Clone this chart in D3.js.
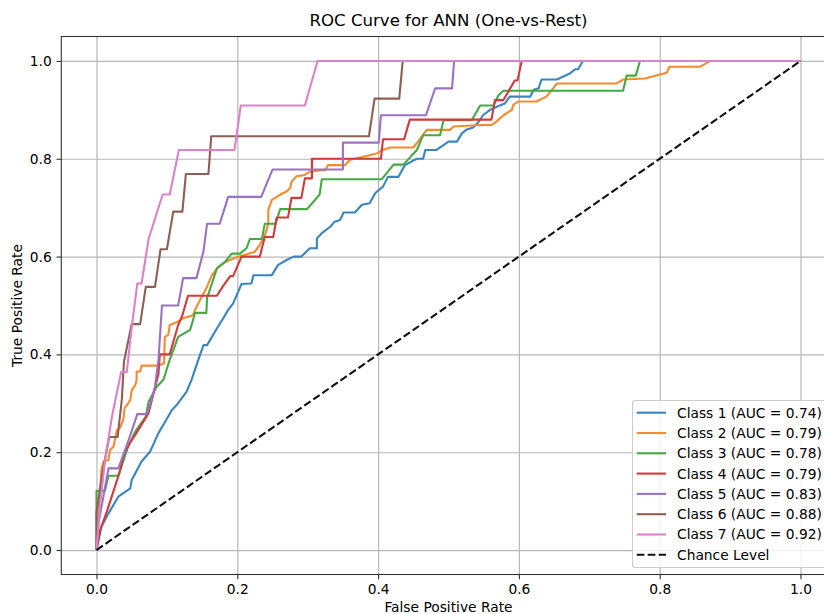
<!DOCTYPE html>
<html>
<head>
<meta charset="utf-8">
<script src="https://cdn.jsdelivr.net/npm/d3@7"></script>
<style>
  html, body { margin: 0; padding: 0; background: #fff; }
  text { font-family: "DejaVu Sans", sans-serif; fill: #000; }
</style>
</head>
<body>
<svg id="chart" width="824" height="614"></svg>
<script>
// ---- data ----
const classNames = ["Class 1", "Class 2", "Class 3", "Class 4", "Class 5", "Class 6", "Class 7"];
const aucValues = [0.74, 0.79, 0.78, 0.79, 0.83, 0.88, 0.92];
const tickValues = [0.0, 0.2, 0.4, 0.6, 0.8, 1.0];

const class1Roc = [[0,0],[0.007,0.048],[0.017,0.075],[0.031,0.109],[0.048,0.126],[0.05,0.143],[0.064,0.181],[0.076,0.201],[0.088,0.239],[0.107,0.286],[0.114,0.297],[0.128,0.324],[0.135,0.348],[0.147,0.399],[0.152,0.419],[0.157,0.419],[0.171,0.453],[0.18,0.474],[0.187,0.491],[0.194,0.504],[0.206,0.544],[0.22,0.545],[0.223,0.562],[0.249,0.562],[0.258,0.583],[0.27,0.593],[0.28,0.6],[0.291,0.6],[0.303,0.617],[0.313,0.617],[0.313,0.637],[0.32,0.648],[0.332,0.661],[0.338,0.671],[0.346,0.675],[0.351,0.69],[0.367,0.69],[0.377,0.706],[0.388,0.709],[0.396,0.73],[0.407,0.743],[0.414,0.763],[0.429,0.763],[0.438,0.787],[0.455,0.8],[0.464,0.8],[0.467,0.818],[0.483,0.818],[0.5,0.835],[0.512,0.835],[0.519,0.852],[0.526,0.86],[0.535,0.864],[0.542,0.874],[0.549,0.889],[0.559,0.9],[0.571,0.908],[0.58,0.913],[0.587,0.927],[0.616,0.927],[0.621,0.941],[0.628,0.944],[0.632,0.962],[0.654,0.962],[0.673,0.975],[0.68,0.983],[0.684,0.983],[0.691,1],[1,1]];
const class2Roc = [[0,0],[0.007,0.164],[0.01,0.181],[0.017,0.184],[0.019,0.204],[0.024,0.211],[0.029,0.245],[0.033,0.249],[0.038,0.266],[0.04,0.29],[0.045,0.3],[0.048,0.307],[0.05,0.327],[0.055,0.337],[0.057,0.348],[0.057,0.365],[0.062,0.365],[0.064,0.377],[0.088,0.377],[0.096,0.382],[0.097,0.436],[0.102,0.44],[0.104,0.46],[0.116,0.467],[0.123,0.474],[0.137,0.48],[0.14,0.491],[0.147,0.511],[0.157,0.538],[0.164,0.562],[0.173,0.579],[0.185,0.59],[0.194,0.596],[0.218,0.607],[0.225,0.61],[0.232,0.624],[0.237,0.637],[0.241,0.651],[0.244,0.668],[0.244,0.695],[0.249,0.716],[0.256,0.722],[0.265,0.73],[0.27,0.733],[0.275,0.74],[0.277,0.753],[0.284,0.764],[0.296,0.767],[0.303,0.774],[0.325,0.777],[0.329,0.787],[0.353,0.787],[0.36,0.798],[0.379,0.804],[0.398,0.811],[0.407,0.818],[0.417,0.823],[0.45,0.823],[0.455,0.832],[0.469,0.859],[0.502,0.859],[0.507,0.866],[0.545,0.869],[0.561,0.869],[0.568,0.876],[0.578,0.889],[0.59,0.9],[0.592,0.91],[0.599,0.917],[0.625,0.917],[0.639,0.927],[0.647,0.941],[0.654,0.954],[0.739,0.954],[0.748,0.962],[0.779,0.964],[0.81,0.976],[0.814,0.988],[0.857,0.988],[0.872,1],[1,1]];
const class3Roc = [[0,0],[0,0.121],[0.012,0.121],[0.017,0.152],[0.031,0.152],[0.045,0.212],[0.055,0.242],[0.07,0.273],[0.074,0.303],[0.085,0.333],[0.095,0.348],[0.104,0.389],[0.116,0.436],[0.133,0.45],[0.14,0.485],[0.156,0.485],[0.157,0.515],[0.164,0.545],[0.171,0.576],[0.183,0.59],[0.192,0.606],[0.204,0.606],[0.213,0.617],[0.218,0.636],[0.235,0.636],[0.239,0.667],[0.254,0.667],[0.261,0.697],[0.299,0.697],[0.317,0.727],[0.32,0.758],[0.405,0.758],[0.422,0.788],[0.436,0.788],[0.455,0.818],[0.464,0.848],[0.488,0.848],[0.493,0.879],[0.533,0.879],[0.545,0.909],[0.564,0.909],[0.571,0.93],[0.578,0.939],[0.748,0.939],[0.753,0.97],[0.766,0.97],[0.772,1],[1,1]];
const class4Roc = [[0,0],[0.005,0.04],[0.015,0.08],[0.024,0.12],[0.033,0.16],[0.04,0.2],[0.048,0.22],[0.057,0.24],[0.074,0.28],[0.088,0.36],[0.09,0.4],[0.104,0.4],[0.116,0.46],[0.122,0.48],[0.13,0.52],[0.171,0.52],[0.18,0.54],[0.19,0.56],[0.194,0.56],[0.206,0.6],[0.232,0.6],[0.239,0.64],[0.251,0.64],[0.256,0.68],[0.272,0.68],[0.277,0.72],[0.291,0.72],[0.296,0.76],[0.306,0.76],[0.306,0.8],[0.404,0.8],[0.407,0.84],[0.437,0.84],[0.445,0.88],[0.561,0.88],[0.566,0.92],[0.578,0.92],[0.594,0.96],[0.598,0.96],[0.604,1],[1,1]];
const class5Roc = [[0,0],[0.003,0.056],[0.01,0.111],[0.017,0.167],[0.031,0.167],[0.045,0.222],[0.058,0.278],[0.072,0.278],[0.083,0.333],[0.088,0.389],[0.093,0.5],[0.116,0.5],[0.123,0.556],[0.142,0.556],[0.152,0.611],[0.157,0.667],[0.175,0.667],[0.187,0.722],[0.234,0.722],[0.25,0.778],[0.35,0.778],[0.35,0.833],[0.401,0.833],[0.404,0.889],[0.468,0.889],[0.481,0.944],[0.505,0.944],[0.508,1],[1,1]];
const class6Roc = [[0,0],[0,0.077],[0.008,0.154],[0.018,0.231],[0.03,0.231],[0.036,0.308],[0.039,0.385],[0.05,0.462],[0.062,0.462],[0.07,0.538],[0.083,0.538],[0.091,0.615],[0.1,0.615],[0.109,0.692],[0.122,0.692],[0.127,0.769],[0.159,0.769],[0.163,0.846],[0.387,0.846],[0.395,0.923],[0.43,0.923],[0.435,1],[1,1]];
const class7Roc = [[0,0],[0.005,0.091],[0.012,0.182],[0.022,0.273],[0.035,0.364],[0.043,0.364],[0.05,0.455],[0.058,0.545],[0.064,0.545],[0.074,0.636],[0.094,0.727],[0.104,0.727],[0.117,0.818],[0.196,0.818],[0.205,0.909],[0.296,0.909],[0.314,1],[1,1]];
const chanceLine = [[0,0],[1,1]];

const rocSeries = [class1Roc, class2Roc, class3Roc, class4Roc, class5Roc, class6Roc, class7Roc];
const colors = ["#3a85c0", "#f58a2e", "#46a846", "#d23b3c", "#9a72c4", "#8d5f55", "#dc82c8"];

// ---- layout ----
const svg = d3.select("#chart");
const x = d3.scaleLinear().domain([-0.05, 1.05]).range([61.3, 835.7]);
const y = d3.scaleLinear().domain([-0.05, 1.05]).range([574.5, 36.5]);
const FS = 13.8;

svg.append("rect").attr("width", 824).attr("height", 614).attr("fill", "#fff");

// grid
const gx = svg.append("g").attr("transform", `translate(0,${y.range()[0]})`)
  .call(d3.axisBottom(x).tickValues(tickValues).tickSize(-(y.range()[0]-y.range()[1])).tickFormat(""));
gx.select(".domain").remove();
gx.selectAll("line").attr("stroke", "#b8b8b8").attr("stroke-width", 1.2);
const gy = svg.append("g").attr("transform", `translate(${x.range()[0]},0)`)
  .call(d3.axisLeft(y).tickValues(tickValues).tickSize(-(x.range()[1]-x.range()[0])).tickFormat(""));
gy.select(".domain").remove();
gy.selectAll("line").attr("stroke", "#b8b8b8").attr("stroke-width", 1.2);

// clip
svg.append("clipPath").attr("id", "plotclip").append("rect")
  .attr("x", x.range()[0]).attr("y", y.range()[1])
  .attr("width", x.range()[1]-x.range()[0]).attr("height", y.range()[0]-y.range()[1]);

const line = d3.line().x(d => x(d[0])).y(d => y(d[1]));
const plot = svg.append("g").attr("clip-path", "url(#plotclip)");
rocSeries.forEach((s, i) => {
  plot.append("path").datum(s).attr("d", line)
    .attr("fill", "none").attr("stroke", colors[i]).attr("stroke-width", 2.1)
    .attr("stroke-linejoin", "round");
});
plot.append("path").datum(chanceLine).attr("d", line)
  .attr("fill", "none").attr("stroke", "#111").attr("stroke-width", 2.1)
  .attr("stroke-dasharray", "7.7,3.3");

// spines
svg.append("rect").attr("x", x.range()[0]).attr("y", y.range()[1])
  .attr("width", x.range()[1]-x.range()[0]).attr("height", y.range()[0]-y.range()[1])
  .attr("fill", "none").attr("stroke", "#333").attr("stroke-width", 1.1);

// axes ticks
const ax = svg.append("g").attr("transform", `translate(0,${y.range()[0]})`)
  .call(d3.axisBottom(x).tickValues(tickValues).tickSize(4.8).tickPadding(4.8).tickFormat(d3.format(".1f")));
ax.select(".domain").remove();
ax.selectAll("line").attr("stroke", "#333").attr("stroke-width", 1.1);
ax.selectAll("text").attr("font-size", FS).attr("font-family", "DejaVu Sans").attr("fill", "#111");
const ay = svg.append("g").attr("transform", `translate(${x.range()[0]},0)`)
  .call(d3.axisLeft(y).tickValues(tickValues).tickSize(4.8).tickPadding(4.8).tickFormat(d3.format(".1f")));
ay.select(".domain").remove();
ay.selectAll("line").attr("stroke", "#333").attr("stroke-width", 1.1);
ay.selectAll("text").attr("font-size", FS).attr("font-family", "DejaVu Sans").attr("fill", "#111");

// labels
const cx = (x.range()[0] + x.range()[1]) / 2;
const cy = (y.range()[0] + y.range()[1]) / 2;
svg.append("text").attr("x", cx).attr("y", 25.5).attr("text-anchor", "middle")
  .attr("font-size", 16.6).attr("fill", "#111").text("ROC Curve for ANN (One-vs-Rest)");
svg.append("text").attr("x", cx).attr("y", 612).attr("text-anchor", "middle")
  .attr("font-size", FS).attr("fill", "#111").text("False Positive Rate");
svg.append("text").attr("transform", `translate(22,${cy}) rotate(-90)`).attr("text-anchor", "middle")
  .attr("font-size", FS).attr("fill", "#111").text("True Positive Rate");

// legend
const lg = svg.append("g");
lg.append("rect").attr("x", 632.5).attr("y", 400.5).attr("width", 197).attr("height", 167).attr("rx", 3)
  .attr("fill", "#fff").attr("fill-opacity", 0.8).attr("stroke", "#cccccc").attr("stroke-width", 1.1);
const legendItems = classNames.map((c, i) => ({ label: `${c} (AUC = ${aucValues[i].toFixed(2)})`, color: colors[i], dash: null }));
legendItems.push({ label: "Chance Level", color: "#111", dash: "7.7,3.3" });
legendItems.forEach((it, i) => {
  const yy = 412.7 + i * 20.3;
  lg.append("line").attr("x1", 636.7).attr("x2", 666).attr("y1", yy).attr("y2", yy)
    .attr("stroke", it.color).attr("stroke-width", 2.1).attr("stroke-dasharray", it.dash);
  lg.append("text").attr("x", 677).attr("y", yy).attr("dy", "0.36em").attr("font-size", FS).attr("fill", "#111").text(it.label);
});
</script>
</body>
</html>
